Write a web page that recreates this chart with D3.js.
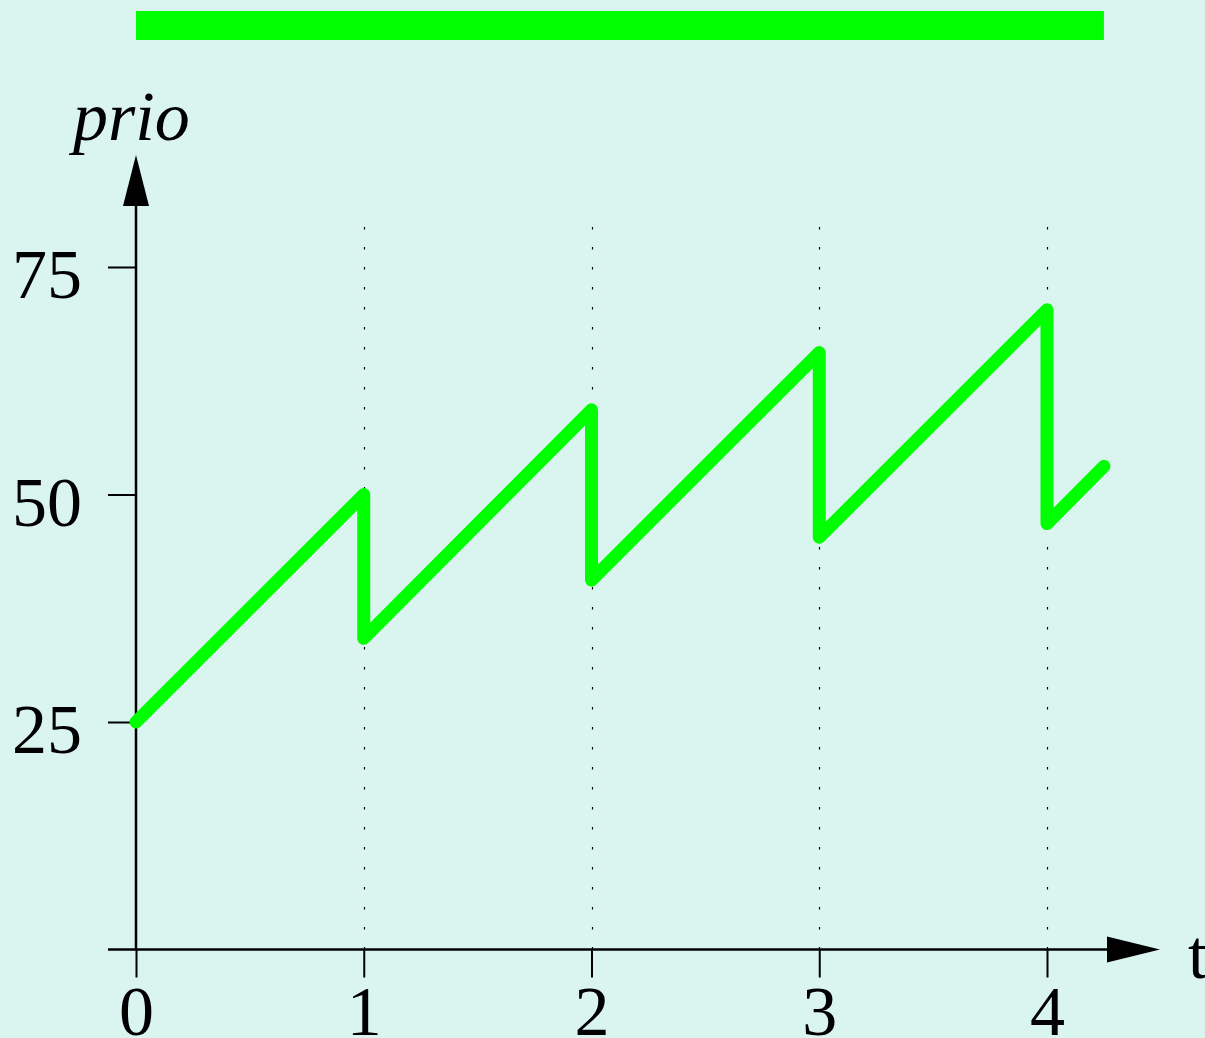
<!DOCTYPE html>
<html>
<head>
<meta charset="utf-8">
<script src="https://cdn.jsdelivr.net/npm/d3@7"></script>
<style>
  html, body { margin: 0; padding: 0; background: #daf5f0; }
  svg { display: block; }
  text { font-family: "Liberation Serif", "Times New Roman", serif; fill: #000; }
</style>
</head>
<body>
<svg id="chart" width="1205" height="1038"></svg>
<script>
// ---- data ----
const times = [0, 1, 1, 2, 2, 3, 3, 4, 4, 4.25];
const prio  = [25, 50, 34.2, 59.3, 40.6, 65.6, 45.3, 70.3, 46.8, 53.1];
const xTickValues = [0, 1, 2, 3, 4];
const xTickLabels = ["0", "1", "2", "3", "4"];
const yTickValues = [25, 50, 75];
const yTickLabels = ["25", "50", "75"];
const gridTimes = [1, 2, 3, 4];
const runInterval = [0, 4.25];
const xAxisLabel = "t";
const yAxisLabel = "prio";

// ---- layout ----
const W = 1205, H = 1038;
const svg = d3.select("#chart");
svg.append("rect").attr("width", W).attr("height", H).attr("fill", "#daf5f0");

const x = d3.scaleLinear().domain([0, 4]).range([136, 1047]);
const y = d3.scaleLinear().domain([0, 75]).range([949.5, 267]);

const green = "#00ff00";

// top bar
svg.append("rect")
  .attr("x", x(runInterval[0]))
  .attr("y", 11)
  .attr("width", x(runInterval[1]) - x(runInterval[0]))
  .attr("height", 29)
  .attr("fill", green);

// dotted grid lines
svg.append("g").selectAll("line").data(gridTimes).join("line")
  .attr("x1", d => Math.round(x(d)) + 0.5)
  .attr("x2", d => Math.round(x(d)) + 0.5)
  .attr("y1", 227)
  .attr("y2", y(0))
  .attr("stroke", "#000")
  .attr("stroke-width", 1.2)
  .attr("stroke-dasharray", "2.5,17.5");

// x axis
const xAxis = d3.axisBottom(x)
  .tickValues(xTickValues)
  .tickFormat((d, i) => xTickLabels[i])
  .tickSize(28)
  .tickPadding(8);
const gx = svg.append("g").attr("transform", `translate(0,${y(0)})`).call(xAxis);
gx.select(".domain").remove();
gx.selectAll(".tick line").attr("stroke", "#000").attr("stroke-width", 2);
gx.selectAll(".tick text")
  .style("font-family", '"Liberation Serif", serif')
  .style("font-size", "70px")
  .attr("fill", "#000");

// y axis
const yAxis = d3.axisLeft(y)
  .tickValues(yTickValues)
  .tickFormat((d, i) => yTickLabels[i])
  .tickSize(28)
  .tickPadding(26);
const gy = svg.append("g").attr("transform", `translate(${x(0)},0)`).call(yAxis);
gy.select(".domain").remove();
gy.selectAll(".tick line").attr("stroke", "#000").attr("stroke-width", 2);
gy.selectAll(".tick text")
  .style("font-family", '"Liberation Serif", serif')
  .style("font-size", "70px")
  .attr("dy", "0.44em")
  .attr("fill", "#000");

// axis lines with arrows
svg.append("line")
  .attr("x1", 108).attr("x2", 1110)
  .attr("y1", y(0)).attr("y2", y(0))
  .attr("stroke", "#000").attr("stroke-width", 2.5);
svg.append("path")
  .attr("d", `M1107,${y(0) - 13} L1160,${y(0)} L1107,${y(0) + 13} Z`)
  .attr("fill", "#000");

svg.append("line")
  .attr("x1", x(0)).attr("x2", x(0))
  .attr("y1", y(0)).attr("y2", 203)
  .attr("stroke", "#000").attr("stroke-width", 2.5);
svg.append("path")
  .attr("d", `M${x(0) - 13},206 L${x(0)},155 L${x(0) + 13},206 Z`)
  .attr("fill", "#000");

// axis labels
svg.append("text")
  .attr("x", 1188).attr("y", 978)
  .style("font-size", "70px")
  .text(xAxisLabel);
svg.append("text")
  .attr("x", 73).attr("y", 140)
  .style("font-size", "70px")
  .style("font-style", "italic")
  .text(yAxisLabel);

// priority line
const pts = times.map((t, i) => [t, prio[i]]);
const line = d3.line().x(d => x(d[0])).y(d => y(d[1]));
svg.append("path")
  .datum(pts)
  .attr("d", line)
  .attr("fill", "none")
  .attr("stroke", green)
  .attr("stroke-width", 13)
  .attr("stroke-linejoin", "round")
  .attr("stroke-linecap", "round");
</script>
</body>
</html>
